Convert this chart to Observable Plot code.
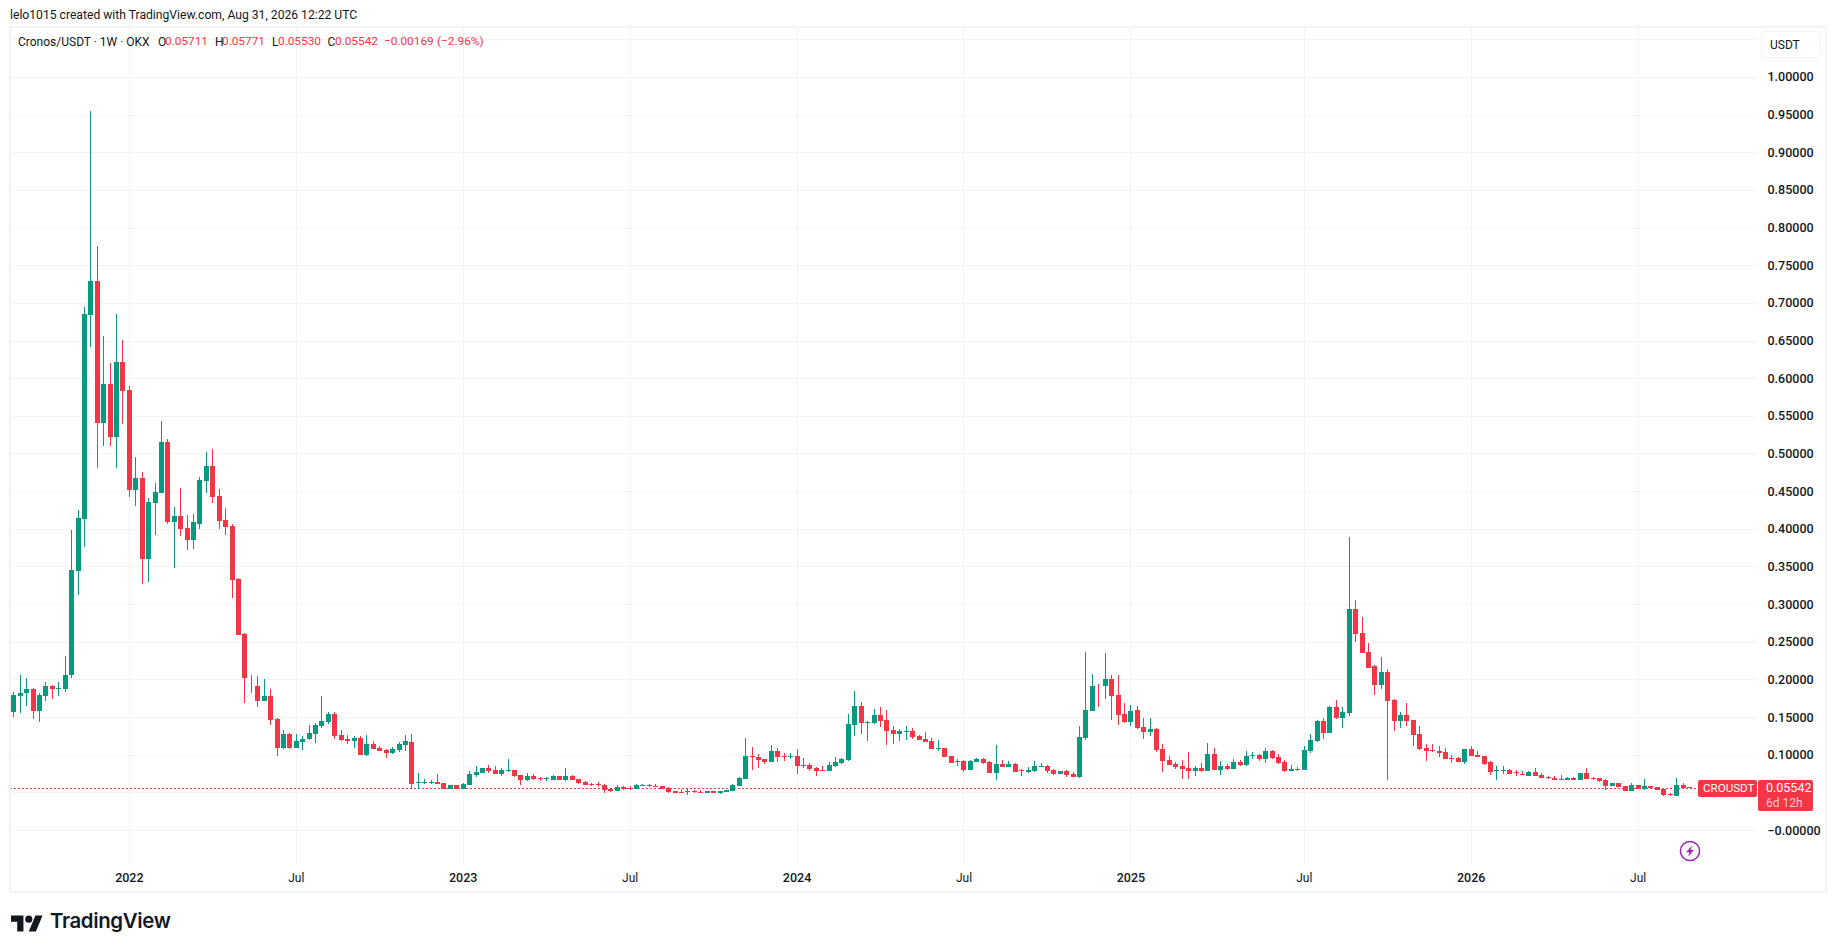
<!DOCTYPE html>
<html><head><meta charset="utf-8">
<script src="https://cdn.jsdelivr.net/npm/d3@7"></script>
<script src="https://cdn.jsdelivr.net/npm/@observablehq/plot@0.6"></script>
<style>
html,body{margin:0;padding:0;background:#fff;overflow:hidden}
#wrap{position:relative;width:1835px;height:951px;font-family:Roboto,sans-serif;color:#131722}
#wrap svg{display:block}
.t{position:absolute;white-space:pre;line-height:1;font-size:12px}
.r{color:#f23645;font-size:11.8px}
.frame{position:absolute;left:9px;top:26px;width:1814px;height:863px;border:2px solid #f3f3f3;box-sizing:content-box;pointer-events:none}
.btn{position:absolute;left:1761px;top:31px;width:58px;height:25px;border:1.5px solid #f3f3f3;border-radius:4px;background:#fff}
.tag{position:absolute;background:#f23645;border-radius:2px}
</style></head><body><div id="wrap"></div>
<script>
const open=[
.1564,.1786,.1813,.1879,.1586,.1786,.1906,.1866,.1879,.2052,
.3435,.4126,.6839,.7291,.5403,.5922,.5217,.6214,.5842,.4512,
.4672,.3594,.4339,.4472,.5150,.4086,.4166,.4007,.3847,.4060,
.4632,.4831,.4432,.4113,.4033,.3328,.2597,.1906,.1919,.1719,
.1786,.1480,.1094,.1281,.1094,.1174,.1214,.1281,.1387,.1440,
.1547,.1267,.1214,.1188,.1227,.1001,.1148,.1094,.1068,.1028,
.1068,.1134,.1174,.0629,.0629,.0629,.0642,.0629,.0549,.0602,
.0549,.0602,.0735,.0762,.0828,.0802,.0749,.0789,.0802,.0735,
.0669,.0722,.0695,.0682,.0669,.0722,.0669,.0722,.0682,.0642,
.0616,.0616,.0602,.0549,.0523,.0576,.0562,.0549,.0589,.0602,
.0589,.0589,.0562,.0523,.0509,.0509,.0523,.0509,.0496,.0523,
.0496,.0509,.0523,.0589,.0682,.0988,.0975,.0948,.0908,.1055,
.0988,.0975,.0988,.0855,.0868,.0828,.0802,.0789,.0855,.0895,
.0935,.1400,.1653,.1427,.1427,.1533,.1467,.1334,.1281,.1307,
.1320,.1254,.1214,.1188,.1081,.1094,.0988,.0908,.0922,.0802,
.0908,.0948,.0908,.0762,.0882,.0842,.0882,.0802,.0775,.0789,
.0842,.0855,.0802,.0749,.0789,.0749,.0709,.1227,.1586,.1919,
.1906,.1999,.1799,.1547,.1440,.1600,.1374,.1307,.1347,.1081,
.0935,.0882,.0855,.0828,.0789,.0828,.0789,.1015,.0802,.0855,
.0815,.0908,.0868,.0988,.1001,.0948,.1055,.0975,.0908,.0789,
.0815,.0802,.1055,.1188,.1453,.1294,.1640,.1493,.1560,.2930,
.2610,.2358,.2172,.1932,.2092,.1733,.1453,.1533,.1467,.1281,
.1094,.1068,.1055,.1041,.0961,.0961,.0908,.1081,.1001,.0988,
.0908,.0789,.0789,.0802,.0775,.0749,.0722,.0775,.0735,.0709,
.0695,.0669,.0669,.0695,.0669,.0762,.0695,.0695,.0669,.0589,
.0629,.0589,.0523,.0602,.0549,.0589,.0576,.0549,.0483,.0456,
.0602,.05711];
const high=[
.1839,.2052,.2012,.1892,.1826,.1972,.1932,.1972,.2305,.3980,
.4246,.6945,.9552,.7757,.6560,.6201,.6852,.6507,.5895,.4951,
.4751,.4406,.4605,.5430,.5190,.4286,.4539,.4179,.4193,.4685,
.5017,.5057,.4525,.4273,.4060,.3342,.2610,.2065,.2039,.1999,
.1866,.1493,.1334,.1294,.1281,.1254,.1400,.1427,.1773,.1573,
.1573,.1334,.1267,.1254,.1254,.1267,.1188,.1121,.1081,.1108,
.1174,.1267,.1281,.0762,.0682,.0669,.0749,.0629,.0602,.0602,
.0629,.0789,.0855,.0828,.0868,.0855,.0828,.0948,.0802,.0735,
.0762,.0749,.0709,.0709,.0735,.0722,.0828,.0735,.0682,.0656,
.0629,.0642,.0616,.0549,.0602,.0589,.0589,.0616,.0616,.0616,
.0616,.0589,.0576,.0523,.0549,.0549,.0536,.0536,.0523,.0523,
.0523,.0536,.0616,.0709,.1227,.1108,.1015,.0948,.1134,.1094,
.1028,.1028,.1081,.0961,.0895,.0842,.0855,.0908,.0975,.0961,
.1547,.1852,.1706,.1453,.1613,.1640,.1600,.1387,.1347,.1387,
.1360,.1267,.1307,.1227,.1201,.1094,.0988,.0948,.0935,.0935,
.0961,.0961,.0922,.1134,.0935,.0922,.0895,.0815,.0842,.0922,
.0895,.0868,.0815,.0789,.0802,.0775,.1387,.2358,.2078,.1945,
.2344,.2065,.2065,.1680,.1666,.1653,.1493,.1493,.1360,.1148,
.0988,.0908,.0935,.1041,.0855,.0895,.1161,.1094,.0922,.0882,
.0948,.0935,.1055,.1041,.1015,.1094,.1068,.1015,.0935,.0868,
.0842,.1121,.1281,.1467,.1493,.1653,.1733,.1640,.3887,.3049,
.2823,.2477,.2185,.2291,.2132,.1746,.1573,.1693,.1467,.1387,
.1148,.1148,.1121,.1094,.1001,.0975,.1081,.1121,.1055,.0988,
.0922,.0855,.0855,.0815,.0802,.0789,.0789,.0828,.0762,.0722,
.0722,.0735,.0709,.0709,.0762,.0828,.0709,.0695,.0682,.0629,
.0629,.0589,.0629,.0602,.0682,.0589,.0576,.0549,.0496,.0695,
.0629,.05771];
const low=[
.1507,.1560,.1653,.1480,.1440,.1719,.1746,.1786,.1839,.2025,
.3116,.3754,.6414,.4804,.5097,.5097,.4804,.5390,.4419,.4299,
.3262,.3289,.3914,.4472,.4060,.3475,.3900,.3714,.3727,.3993,
.4472,.4339,.3993,.3914,.3076,.2584,.1680,.1826,.1640,.1719,
.1400,.0988,.1081,.1081,.1094,.1068,.1201,.1161,.1360,.1414,
.1214,.1188,.1148,.1094,.1001,.0988,.1081,.1055,.0961,.1015,
.1041,.1055,.0562,.0549,.0616,.0616,.0616,.0549,.0549,.0549,
.0549,.0602,.0709,.0762,.0762,.0749,.0722,.0775,.0709,.0602,
.0656,.0669,.0656,.0656,.0669,.0669,.0656,.0669,.0616,.0602,
.0589,.0576,.0496,.0509,.0523,.0536,.0536,.0549,.0589,.0576,
.0576,.0549,.0496,.0496,.0496,.0469,.0496,.0496,.0496,.0496,
.0483,.0509,.0523,.0589,.0682,.0802,.0828,.0882,.0908,.0908,
.0922,.0948,.0749,.0828,.0789,.0722,.0789,.0789,.0842,.0882,
.0922,.1254,.1281,.1188,.1414,.1374,.1134,.1148,.1188,.1201,
.1214,.1201,.1174,.1081,.1055,.0975,.0895,.0855,.0775,.0802,
.0908,.0882,.0762,.0669,.0842,.0842,.0775,.0722,.0762,.0775,
.0842,.0762,.0735,.0749,.0709,.0709,.0695,.1201,.1586,.1640,
.1746,.1467,.1400,.1427,.1387,.1347,.1214,.1254,.1041,.0775,
.0868,.0815,.0682,.0682,.0722,.0775,.0789,.0802,.0735,.0802,
.0815,.0855,.0855,.0948,.0922,.0895,.0948,.0882,.0775,.0789,
.0789,.0802,.1028,.1174,.1214,.1294,.1480,.1360,.1520,.2491,
.2344,.2158,.1799,.1866,.0669,.1320,.1360,.1387,.1121,.1068,
.0922,.1041,.0975,.0948,.0895,.0908,.0882,.0988,.0975,.0868,
.0735,.0669,.0749,.0749,.0722,.0735,.0722,.0722,.0695,.0682,
.0669,.0669,.0669,.0669,.0669,.0682,.0669,.0642,.0536,.0589,
.0576,.0523,.0523,.0549,.0536,.0562,.0536,.0456,.0456,.0456,
.0562,.05530];
const close=[
.1799,.1826,.1879,.1586,.1799,.1906,.1866,.1892,.2065,.3448,
.4140,.6852,.7291,.5403,.5922,.5217,.6214,.5828,.4512,.4672,
.3594,.4352,.4485,.5150,.4086,.4166,.3993,.3847,.4086,.4645,
.4831,.4419,.4100,.4020,.3315,.2584,.2025,.1919,.1719,.1786,
.1467,.1094,.1281,.1094,.1188,.1214,.1294,.1400,.1453,.1547,
.1254,.1201,.1188,.1227,.1001,.1148,.1081,.1055,.1028,.1081,
.1148,.1188,.0616,.0642,.0642,.0642,.0616,.0549,.0602,.0549,
.0616,.0749,.0775,.0828,.0789,.0749,.0802,.0802,.0722,.0669,
.0722,.0682,.0682,.0695,.0722,.0669,.0722,.0669,.0629,.0602,
.0602,.0602,.0536,.0523,.0576,.0549,.0549,.0602,.0602,.0589,
.0576,.0549,.0509,.0496,.0496,.0523,.0509,.0496,.0523,.0496,
.0523,.0536,.0602,.0695,.0988,.0975,.0935,.0908,.1055,.0975,
.0975,.0988,.0855,.0868,.0815,.0789,.0789,.0868,.0908,.0948,
.1414,.1653,.1427,.1440,.1533,.1453,.1320,.1281,.1320,.1320,
.1241,.1201,.1174,.1081,.1094,.0975,.0895,.0922,.0802,.0922,
.0948,.0895,.0762,.0882,.0842,.0882,.0775,.0789,.0802,.0855,
.0855,.0789,.0749,.0789,.0735,.0709,.1241,.1600,.1919,.1906,
.1999,.1786,.1533,.1440,.1586,.1360,.1307,.1347,.1068,.0922,
.0868,.0842,.0815,.0789,.0828,.0789,.1015,.0802,.0855,.0815,
.0908,.0868,.0988,.1001,.0948,.1055,.0961,.0895,.0789,.0815,
.0802,.1068,.1201,.1453,.1294,.1640,.1493,.1573,.2930,.2597,
.2344,.2158,.1932,.2092,.1719,.1453,.1533,.1453,.1267,.1081,
.1055,.1055,.1028,.0948,.0948,.0908,.1081,.0988,.0975,.0882,
.0775,.0802,.0802,.0749,.0762,.0735,.0775,.0722,.0695,.0695,
.0669,.0682,.0695,.0669,.0762,.0682,.0682,.0656,.0589,.0629,
.0576,.0523,.0602,.0549,.0589,.0562,.0536,.0469,.0469,.0602,
.0562,.05542];

const yearBars=[18,70,122,174,227], yearLabels=["2022","2023","2024","2025","2026"];
const julyBars=[44,96,148,201,253], julyLabel="Jul";
const priceTicks=[0,.1,.15,.2,.25,.3,.35,.4,.45,.5,.55,.6,.65,.7,.75,.8,.85,.9,.95,1];
const gridPrices=[...priceTicks,.05,1.05];
const UP="#089981",DOWN="#f23645",GRID="#f3f3f3";

const bars=open.map((o,i)=>({i,o,h:high[i],l:low[i],c:close[i]}));
const col=d=>d.c>=d.o?UP:DOWN;
const lastClose=close[close.length-1];
const crisp={shapeRendering:"crispEdges"};

const chart=Plot.plot({
  width:1835,height:951,marginLeft:10,marginRight:78,marginTop:28,marginBottom:87,
  style:{background:"transparent",fontFamily:"Roboto, sans-serif",color:"#131722"},
  x:{type:"linear",domain:[-0.514,271.6],axis:null,label:null},
  y:{type:"linear",domain:[-0.04515,1.06507],axis:null,label:null},
  marks:[
    Plot.gridX([...yearBars,...julyBars],{stroke:GRID,strokeOpacity:1,strokeWidth:1,...crisp}),
    Plot.gridY(gridPrices,{stroke:GRID,strokeOpacity:1,strokeWidth:1,...crisp}),
    Plot.axisY({anchor:"right",ticks:priceTicks,tickSize:0,tickPadding:10,fontSize:12.5,fontWeight:500,label:null,
      tickFormat:d=>d===0?"\u22120.00000":d3.format(".5f")(d)}),
    Plot.axisX({anchor:"bottom",ticks:yearBars,tickSize:0,tickPadding:8.5,fontSize:12.5,fontWeight:500,label:null,
      tickFormat:d=>yearLabels[yearBars.indexOf(d)]}),
    Plot.axisX({anchor:"bottom",ticks:julyBars,tickSize:0,tickPadding:8.5,fontSize:12,fontWeight:400,label:null,
      tickFormat:()=>julyLabel}),
    Plot.ruleY([lastClose],{stroke:DOWN,strokeWidth:1,strokeDasharray:"1.5,2.5",...crisp}),
    Plot.ruleX(bars,{x:"i",y1:"l",y2:"h",stroke:col,strokeWidth:1,...crisp}),
    Plot.ruleX(bars,{x:"i",y1:d=>Math.min(d.o,d.c),y2:d=>Math.max(d.o,d.c),stroke:col,strokeWidth:5,...crisp})
  ]
});
const w=document.getElementById("wrap");
w.appendChild(chart);
function t(x,y,s,cls,extra){const e=document.createElement("div");e.className="t "+(cls||"");e.textContent=s;
  e.style.left=x+"px";e.style.top=y+"px";if(extra)Object.assign(e.style,extra);w.appendChild(e);return e;}
function box(cls,css){const e=document.createElement("div");e.className=cls;Object.assign(e.style,css||{});w.appendChild(e);return e;}
box("frame");
box("btn");
t(10,9,"lelo1015 created with TradingView.com, Aug 31, 2026 12:22 UTC",null,{fontSize:"12.15px"});
t(18,36,"Cronos/USDT \u00b7 1W \u00b7 OKX");
[[158,"O"],[215,"H"],[272,"L"],[327.5,"C"]].forEach(([x,s])=>t(x,36,s));
[[165,"0.05711"],[222,"0.05771"],[278,"0.05530"],[335,"0.05542"],[384,"\u22120.00169"],[437,"(\u22122.96%)"]].forEach(([x,s])=>t(x,36,s,"r"));
t(1770,39,"USDT",null,{fontSize:"12px"});
box("tag",{left:"1698px",top:"780px",width:"59px",height:"17px"});
box("tag",{left:"1758px",top:"780px",width:"55px",height:"31px"});
t(1703,782.5,"CROUSDT",null,{color:"#fff",fontSize:"11.6px"});
t(1766,782,"0.05542",null,{color:"#fff",fontSize:"12.5px"});
t(1766,797,"6d 12h",null,{color:"rgba(255,255,255,.75)",fontSize:"12px"});
t(50,911,"TradingView",null,{fontFamily:"Inter",fontWeight:"600",fontSize:"20.4px",letterSpacing:"-.35px",color:"#131722"});
const ns=`
<svg style="position:absolute;left:11px;top:911.5px" width="32" height="25" viewBox="0 0 36 28"><path fill="#131722" d="M14 22H7V11H0V4h14v18zM28 22h-8l7.5-18h8L28 22z"/><circle fill="#131722" cx="20" cy="8" r="4"/></svg>
<svg style="position:absolute;left:1679px;top:840px" width="22" height="22" viewBox="0 0 22 22"><circle cx="11" cy="11" r="9.6" fill="#fff" stroke="#9c27b0" stroke-width="1.5"/><path d="M13 5.5 7 12.2h3.4l-1.2 4.3 5.8-6.6h-3.4z" fill="#9c27b0"/></svg>`;
w.insertAdjacentHTML("beforeend",ns);
</script></body></html>
